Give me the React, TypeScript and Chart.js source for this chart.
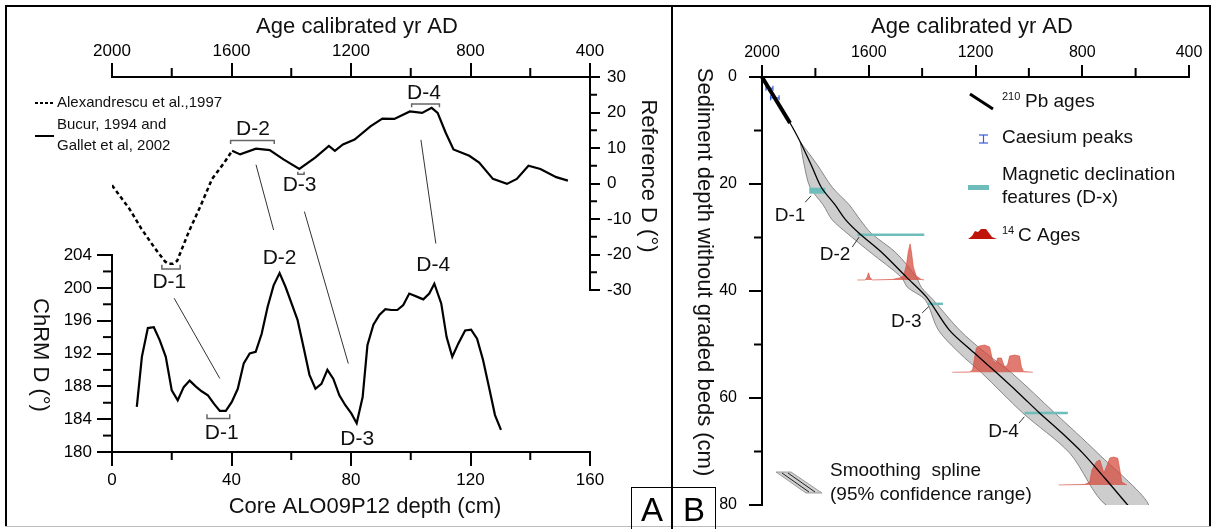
import React, { useEffect, useRef } from 'react';
import { Chart, registerables } from 'chart.js';

Chart.register(...registerables);

const FONT = '"Liberation Sans", Arial, Helvetica, sans-serif';

// ---------------- Panel A : reference curves (top) ----------------
const alexAge = [2000, 1942, 1902, 1856, 1823, 1812, 1796, 1782, 1743, 1703, 1665, 1624, 1598];
const alexD = [-0.5, -7.1, -12.7, -18.3, -21.9, -22.6, -22.6, -21.8, -13.6, -6.2, 1.3, 5.9, 9.2];
const bucurAge = [1598, 1571, 1518, 1472, 1426, 1373, 1320, 1274, 1254, 1227, 1188, 1135, 1095, 1055, 1003, 962, 930, 910, 883, 857, 804, 771, 725, 678, 645, 606, 566, 513, 474];
const bucurD = [9.2, 8.2, 9.8, 9.4, 6.8, 4.1, 7.3, 10.6, 9.2, 11.0, 12.4, 16.1, 18.3, 18.2, 20.3, 19.9, 21.3, 19.9, 14.3, 9.6, 7.8, 5.9, 1.3, -0.1, 1.3, 5.0, 4.1, 1.8, 0.8];

// ---------------- Panel A : core ChRM declination (bottom) ----------------
const coreDepth = [8.3, 10, 12, 14, 16, 18, 20, 22, 24, 26, 28, 30, 32.1, 34.1, 36.1, 38.1, 40.1, 42.1, 44.1, 46.1, 48.1, 50.1, 52.1, 54.1, 56.1, 58.1, 60.1, 62.1, 64.1, 66.1, 68.1, 70.1, 72.1, 74.1, 76.1, 78.1, 80.1, 81.9, 83.9, 85.5, 87.5, 89.5, 91.5, 93.5, 95.5, 97.5, 99.5, 102.2, 104.2, 106.2, 107.9, 110.2, 112.0, 113.9, 115.9, 118.2, 120.2, 122.2, 124.2, 126.2, 128.2, 130.2];
const coreChrm = [185.5, 191.6, 195.1, 195.2, 193.6, 191.6, 187.5, 186.3, 187.9, 188.7, 188.0, 187.4, 186.9, 185.9, 185.0, 185.0, 186.1, 187.7, 190.8, 192.0, 192.2, 194.4, 197.7, 200.3, 201.8, 200.1, 198.1, 196.1, 192.8, 189.4, 187.7, 188.3, 190.0, 188.9, 186.9, 185.7, 184.7, 183.5, 186.7, 193.0, 195.5, 196.7, 197.4, 197.3, 197.3, 197.9, 199.3, 198.9, 198.6, 199.3, 200.5, 198.1, 194.0, 191.6, 193.2, 194.8, 194.9, 193.8, 191.2, 187.9, 184.5, 182.7];

// ticks
const ageTicks = [2000, 1600, 1200, 800, 400];
const ageMinor = [1800, 1400, 1000, 600];
const depthTicks = [0, 40, 80, 120, 160];
const depthMinor = [20, 60, 100, 140];
const chrmTicks = [180, 184, 188, 192, 196, 200, 204];
const chrmMinor = [182, 186, 190, 194, 198, 202];
const refTicks = [30, 20, 10, 0, -10, -20, -30];
const refMinor = [25, 15, 5, -5, -15, -25];
const sedTicks = [0, 20, 40, 60, 80];
const sedMinor = [10, 30, 50, 70];

// Panel A feature annotations (reference curve)
const featNames = ['D-1', 'D-2', 'D-3', 'D-4'];
const refBrAgeFrom = [1833, 1603, 1378, 997];
const refBrAgeTo = [1772, 1457, 1357, 904];
const refBrD = [-24.1, 12.1, 2.6, 22.4];
const refBrEndD = [-22.9, 11.1, 3.3, 21.5];
const refLabAge = [1808, 1528, 1372, 956];
const refLabD = [-27.9, 15.4, -0.5, 25.5];
// Panel A feature annotations (core curve)
const coreLabDepth = [36.7, 56.1, 82.1, 107.5];
const coreLabChrm = [182.3, 203.6, 181.6, 202.7];
const coreBrDepthFrom = [31.8];
const coreBrDepthTo = [39.4];
const coreBrChrm = [184.07];
const coreBrEndChrm = [184.6];
// correlation lines: start (age, refD) -> end (depth, ChRM)
const linkAge = [1792, 1518, 1356, 966];
const linkRefD = [-32.3, 5.3, -7.9, 12.3];
const linkDepth = [36.1, 54.1, 79.1, 108.4];
const linkChrm = [188.95, 207.05, 190.78, 205.4];

// ---------------- Panel B : age-depth model ----------------
const splineAge = [2000, 1955, 1895, 1857, 1816, 1778, 1726, 1688, 1636, 1549, 1459, 1384, 1298, 1204, 1121, 1038, 960, 877, 798, 715, 628];
const splineDepth = [0, 3.9, 8.6, 12.1, 16.4, 20.6, 23.9, 26.6, 29.2, 32.9, 37.4, 41.1, 47.3, 51.6, 55.3, 59.1, 62.8, 66.5, 70.3, 75.0, 80.1];
const bandDepth = [12.1, 16.4, 20.6, 23.9, 26.7, 29.2, 32.9, 37.4, 39.3, 41.7, 47.3, 51.6, 55.3, 62.8, 70.3, 80.2];
const bandYoungAge = [1857, 1842, 1820, 1771, 1737, 1681, 1591, 1478, 1455, 1388, 1339, 1260, 1177, 1023, 847, 706];
const bandOldAge = [1857, 1793, 1737, 1673, 1632, 1591, 1497, 1422, 1403, 1358, 1260, 1162, 1065, 903, 742, 550];
const pbAge = [2000, 1895];
const pbDepth = [0, 8.6];
const csDepth = [2.1, 3.9];
const csAgeFrom = [1985, 1968];
const csAgeTo = [1959, 1936];
const magAgeFrom = [1823, 1643, 1380, 1016];
const magAgeTo = [1763, 1392, 1322, 854];
const magDepth = [21.25, 29.5, 42.4, 62.8];
const c14aAge = [1643, 1613, 1606, 1601, 1596, 1587, 1512, 1485, 1470, 1459, 1452, 1445, 1440, 1433, 1422, 1403, 1392];
const c14aDepth = [37.94, 37.94, 37.4, 36.6, 37.4, 37.94, 37.85, 37.57, 37.2, 35.2, 32.7, 31.2, 32.7, 35.5, 37.2, 37.85, 37.94];
const c14bAge = [1287, 1222, 1211, 1197, 1185, 1166, 1147, 1136, 1122, 1117, 1103, 1091, 1080, 1072, 1054, 1035, 1028, 1020, 985];
const c14bDepth = [55.19, 55.14, 54.77, 50.65, 50.28, 50.09, 50.47, 52.9, 53.46, 52.53, 52.53, 54.21, 53.84, 52.16, 51.97, 52.16, 54.21, 55.05, 55.19];
const c14cAge = [888, 791, 772, 764, 747, 734, 727, 719, 708, 697, 682, 667, 659, 652, 633];
const c14cDepth = [76.26, 76.17, 75.7, 73.46, 71.9, 71.59, 72.71, 74.02, 72.71, 71.22, 71.03, 71.27, 73.46, 75.7, 76.26];
const bLabAge = [1895, 1726, 1459, 1095];
const bLabDepth = [26.0, 33.3, 45.7, 66.3];
const bLeadAge1 = [1838, 1662, 1400, 1037];
const bLeadDepth1 = [23.4, 31.8, 44.1, 64.7];
const bLeadAge2 = [1816, 1636, 1375, 1017];
const bLeadDepth2 = [22.2, 29.9, 42.9, 63.5];

// ---------------- helpers ----------------
const zip = (xs: number[], ys: number[]) => xs.map((x, i) => ({ x, y: ys[i] }));

function seg(ctx: CanvasRenderingContext2D, x1: number, y1: number, x2: number, y2: number) {
  ctx.beginPath();
  ctx.moveTo(x1, y1);
  ctx.lineTo(x2, y2);
  ctx.stroke();
}

function txt(ctx: CanvasRenderingContext2D, s: string, x: number, y: number, size: number, align: CanvasTextAlign = 'center', rot = 0, color = '#111') {
  ctx.save();
  ctx.font = `${size}px ${FONT}`;
  ctx.fillStyle = color;
  ctx.textAlign = align;
  ctx.textBaseline = 'middle';
  ctx.translate(x, y);
  if (rot) ctx.rotate(rot);
  ctx.fillText(s, 0, 0);
  ctx.restore();
}

function axis(o: any) {
  const vertical = o.position === 'left' || o.position === 'right';
  return {
    type: 'linear',
    position: o.position,
    min: o.min,
    max: o.max,
    reverse: !!o.reverse,
    afterBuildTicks: (s: any) => { s.ticks = o.ticks.map((value: number) => ({ value })); },
    afterFit: (s: any) => { if (vertical) s.width = o.size; else s.height = o.size; },
    grid: { display: true, drawOnChartArea: false, drawTicks: true, tickLength: o.tickLength, color: '#000', lineWidth: 2 },
    border: { display: false },
    ticks: { autoSkip: false, maxRotation: 0, padding: o.padding, color: '#000', font: { family: FONT, size: o.fontSize }, callback: (v: any) => String(v) },
  };
}

const line = (data: any[], extra: any) => ({ data, showLine: true, pointRadius: 0, borderColor: '#000', borderWidth: 2, fill: false, tension: 0, ...extra });

// ---------------- plugins ----------------
const panelAPlugin = {
  id: 'panelA',
  afterDraw(chart: any) {
    const ctx: CanvasRenderingContext2D = chart.ctx;
    const ca = chart.chartArea;
    const sx = chart.scales.xTop, sb = chart.scales.xBottom, sl = chart.scales.yLeft, sr = chart.scales.yRight;
    ctx.save();
    ctx.strokeStyle = '#000';
    ctx.lineWidth = 2;
    seg(ctx, ca.left - 1, ca.top, ca.right + 1, ca.top);
    seg(ctx, ca.right, ca.top, ca.right, sr.getPixelForValue(-30) + 1);
    seg(ctx, ca.left, sl.getPixelForValue(204) - 1, ca.left, ca.bottom);
    seg(ctx, ca.left - 1, ca.bottom, ca.right + 1, ca.bottom);
    ageMinor.forEach(v => { const x = sx.getPixelForValue(v); seg(ctx, x, ca.top, x, ca.top - 9); });
    depthMinor.forEach(v => { const x = sb.getPixelForValue(v); seg(ctx, x, ca.bottom, x, ca.bottom + 8); });
    chrmMinor.forEach(v => { const y = sl.getPixelForValue(v); seg(ctx, ca.left, y, ca.left - 9, y); });
    refMinor.forEach(v => { const y = sr.getPixelForValue(v); seg(ctx, ca.right, y, ca.right + 7, y); });

    // axis titles
    txt(ctx, 'Age calibrated yr AD', 357, 27, 22);
    txt(ctx, 'Reference D (°)', 648, 176, 22, 'center', Math.PI / 2);
    txt(ctx, 'ChRM D (°)', 40, 355, 22, 'center', Math.PI / 2);
    txt(ctx, 'Core ALO09P12 depth (cm)', 365, 507, 22);

    // legend
    ctx.lineWidth = 2;
    ctx.setLineDash([3, 2]);
    seg(ctx, 35, 103, 55, 103);
    ctx.setLineDash([]);
    seg(ctx, 35, 136, 54, 136);
    txt(ctx, 'Alexandrescu et al.,1997', 57, 103, 15, 'left');
    txt(ctx, 'Bucur, 1994 and', 57, 125, 15, 'left');
    txt(ctx, 'Gallet et al, 2002', 57, 146, 15, 'left');

    // brackets on reference curve
    ctx.strokeStyle = '#666';
    ctx.lineWidth = 1.5;
    refBrAgeFrom.forEach((a, i) => {
      const x1 = sx.getPixelForValue(a), x2 = sx.getPixelForValue(refBrAgeTo[i]);
      const y = sr.getPixelForValue(refBrD[i]), ye = sr.getPixelForValue(refBrEndD[i]);
      ctx.beginPath(); ctx.moveTo(x1, ye); ctx.lineTo(x1, y); ctx.lineTo(x2, y); ctx.lineTo(x2, ye); ctx.stroke();
    });
    coreBrDepthFrom.forEach((d, i) => {
      const x1 = sb.getPixelForValue(d), x2 = sb.getPixelForValue(coreBrDepthTo[i]);
      const y = sl.getPixelForValue(coreBrChrm[i]), ye = sl.getPixelForValue(coreBrEndChrm[i]);
      ctx.beginPath(); ctx.moveTo(x1, ye); ctx.lineTo(x1, y); ctx.lineTo(x2, y); ctx.lineTo(x2, ye); ctx.stroke();
    });
    // correlation lines
    ctx.strokeStyle = '#333';
    ctx.lineWidth = 1;
    linkAge.forEach((a, i) => {
      seg(ctx, sx.getPixelForValue(a), sr.getPixelForValue(linkRefD[i]), sb.getPixelForValue(linkDepth[i]), sl.getPixelForValue(linkChrm[i]));
    });
    featNames.forEach((n, i) => {
      txt(ctx, n, sx.getPixelForValue(refLabAge[i]), sr.getPixelForValue(refLabD[i]), 21);
      txt(ctx, n, sb.getPixelForValue(coreLabDepth[i]), sl.getPixelForValue(coreLabChrm[i]), 21);
    });
    ctx.restore();
  },
};

const OX = 671;
const panelBPlugin = {
  id: 'panelB',
  afterDraw(chart: any) {
    const ctx: CanvasRenderingContext2D = chart.ctx;
    const ca = chart.chartArea;
    const sx = chart.scales.xTop, sy = chart.scales.yLeft;
    ctx.save();
    ctx.strokeStyle = '#000';
    ctx.lineWidth = 2;
    seg(ctx, ca.left - 1, ca.top, ca.right + 1, ca.top);
    seg(ctx, ca.left, ca.top, ca.left, ca.bottom + 1);
    ageMinor.forEach(v => { const x = sx.getPixelForValue(v); seg(ctx, x, ca.top, x, ca.top - 9); });
    sedMinor.forEach(v => { const y = sy.getPixelForValue(v); seg(ctx, ca.left, y, ca.left - 8, y); });

    txt(ctx, 'Age calibrated yr AD', 972 - OX, 27, 22);
    txt(ctx, 'Sediment depth without graded beds (cm)', 704.5 - OX, 272, 22, 'center', Math.PI / 2);

    // feature labels
    ctx.strokeStyle = '#333';
    ctx.lineWidth = 1;
    featNames.forEach((n, i) => {
      seg(ctx, sx.getPixelForValue(bLeadAge1[i]), sy.getPixelForValue(bLeadDepth1[i]), sx.getPixelForValue(bLeadAge2[i]), sy.getPixelForValue(bLeadDepth2[i]));
      txt(ctx, n, sx.getPixelForValue(bLabAge[i]), sy.getPixelForValue(bLabDepth[i]), 19);
    });

    // legend
    ctx.strokeStyle = '#000';
    ctx.lineWidth = 3;
    seg(ctx, 970 - OX, 94, 993 - OX, 109);
    txt(ctx, '210', 1002 - OX, 97, 11, 'left');
    txt(ctx, 'Pb ages', 1025 - OX, 102, 19, 'left');

    ctx.strokeStyle = '#3b5bdb';
    ctx.lineWidth = 1.2;
    seg(ctx, 983.5 - OX, 135, 983.5 - OX, 143);
    seg(ctx, 979 - OX, 135, 988 - OX, 135);
    seg(ctx, 979 - OX, 143, 988 - OX, 143);
    txt(ctx, 'Caesium peaks', 1002 - OX, 137.5, 19, 'left');

    ctx.strokeStyle = '#6fbdbb';
    ctx.lineWidth = 5;
    seg(ctx, 968 - OX, 187.5, 989 - OX, 187.5);
    txt(ctx, 'Magnetic declination', 1002 - OX, 175, 19, 'left');
    txt(ctx, 'features (D-x)', 1002 - OX, 198, 19, 'left');

    ctx.fillStyle = '#c0140a';
    ctx.beginPath();
    const red = [[968, 239], [972, 236], [975, 231], [978, 232], [981, 229], [986, 229], [989, 233], [992, 237], [997, 239]];
    red.forEach(([x, y], i) => (i ? ctx.lineTo(x - OX, y) : ctx.moveTo(x - OX, y)));
    ctx.closePath();
    ctx.fill();
    txt(ctx, '14', 1002 - OX, 231, 11, 'left');
    txt(ctx, 'C Ages', 1018 - OX, 236, 19, 'left');

    // smoothing spline legend
    ctx.fillStyle = '#d0d0d0';
    ctx.strokeStyle = '#888';
    ctx.lineWidth = 0.8;
    ctx.beginPath();
    ctx.moveTo(776 - OX, 472); ctx.lineTo(791 - OX, 472); ctx.lineTo(822 - OX, 493); ctx.lineTo(806 - OX, 493); ctx.closePath();
    ctx.fill(); ctx.stroke();
    ctx.strokeStyle = '#222';
    ctx.lineWidth = 1;
    seg(ctx, 782 - OX, 473, 809 - OX, 492);
    seg(ctx, 788 - OX, 473, 815 - OX, 492);
    txt(ctx, 'Smoothing  spline', 830 - OX, 471, 19, 'left');
    txt(ctx, '(95% confidence range)', 830 - OX, 495, 19, 'left');
    ctx.restore();
  },
};

export default function App() {
  const refA = useRef<HTMLCanvasElement>(null);
  const refB = useRef<HTMLCanvasElement>(null);

  useEffect(() => {
    const chartA = new Chart(refA.current as HTMLCanvasElement, {
      type: 'scatter',
      data: {
        datasets: [
          line(zip(alexAge, alexD), { xAxisID: 'xTop', yAxisID: 'yRight', borderDash: [4, 3], borderWidth: 2.5 }),
          line(zip(bucurAge, bucurD), { xAxisID: 'xTop', yAxisID: 'yRight', borderWidth: 2.2 }),
          line(zip(coreDepth, coreChrm), { xAxisID: 'xBottom', yAxisID: 'yLeft', borderWidth: 2.2 }),
        ],
      },
      options: {
        responsive: false,
        animation: false,
        layout: { padding: 0 },
        plugins: { legend: { display: false }, tooltip: { enabled: false } },
        scales: {
          xTop: axis({ position: 'top', min: 400, max: 2000, reverse: true, ticks: ageTicks, size: 77, tickLength: 14, padding: 1, fontSize: 17 }),
          xBottom: axis({ position: 'bottom', min: 0, max: 160, ticks: depthTicks, size: 77, tickLength: 14, padding: 4, fontSize: 17 }),
          yLeft: axis({ position: 'left', min: 180, max: 225.69, ticks: chrmTicks, size: 112, tickLength: 15, padding: 5, fontSize: 17 }),
          yRight: axis({ position: 'right', min: -75.63, max: 30, ticks: refTicks, size: 81, tickLength: 10, padding: 7, fontSize: 17 }),
        } as any,
      },
      plugins: [panelAPlugin],
    } as any);

    const bandPoly = zip(bandYoungAge, bandDepth).concat(zip(bandOldAge, bandDepth).reverse());
    const redFill = 'rgba(214,72,58,0.72)';
    const B = { xAxisID: 'xTop', yAxisID: 'yLeft' };
    const chartB = new Chart(refB.current as HTMLCanvasElement, {
      type: 'scatter',
      data: {
        datasets: [
          line(zip(pbAge, pbDepth), { ...B, borderWidth: 4, order: 1, clip: false }),
          line(zip(splineAge, splineDepth), { ...B, borderWidth: 1.3, order: 2, tension: 0.3 }),
          ...csDepth.map((d, i) => line([{ x: csAgeFrom[i], y: d }, { x: csAgeTo[i], y: d }], {
            ...B, borderColor: '#3b5bdb', borderWidth: 1.2, order: 3, pointRadius: 2.5, pointStyle: 'line', pointRotation: 90,
            pointBorderColor: '#3b5bdb', pointBorderWidth: 1.2,
          })),
          ...magDepth.map((d, i) => line([{ x: magAgeFrom[i], y: d }, { x: magAgeTo[i], y: d }], {
            ...B, borderColor: '#6fbdbb', borderWidth: i === 0 ? 6 : 2.5, order: 4,
          })),
          ...[zip(c14aAge, c14aDepth), zip(c14bAge, c14bDepth), zip(c14cAge, c14cDepth)].map(pts => line(pts, {
            ...B, borderColor: 'rgba(214,72,58,0.6)', borderWidth: 1, backgroundColor: redFill, fill: 'shape', order: 5,
          })),
          line(bandPoly, { ...B, borderColor: '#7d7d7d', borderWidth: 0.9, backgroundColor: '#cdcdcd', fill: 'shape', order: 6, tension: 0.3 }),
        ],
      },
      options: {
        responsive: false,
        animation: false,
        layout: { padding: { left: 0, top: 0, right: 24, bottom: 24 } },
        plugins: { legend: { display: false }, tooltip: { enabled: false } },
        scales: {
          xTop: axis({ position: 'top', min: 400, max: 2000, reverse: true, ticks: ageTicks, size: 77, tickLength: 12, padding: 3, fontSize: 16 }),
          yLeft: axis({ position: 'left', min: 0, max: 80, reverse: true, ticks: sedTicks, size: 91, tickLength: 13, padding: 12, fontSize: 16 }),
        } as any,
      },
      plugins: [panelBPlugin],
    } as any);

    return () => {
      chartA.destroy();
      chartB.destroy();
    };
  }, []);

  const box = (left: number, width: number, label: string) => (
    <div style={{
      position: 'absolute', left, top: 487, width, height: 44, boxSizing: 'border-box',
      border: '1.5px solid #000', display: 'flex', alignItems: 'center', justifyContent: 'center',
      fontFamily: FONT, fontSize: 33, color: '#000', lineHeight: 1,
    }}>{label}</div>
  );

  return (
    <div style={{ position: 'absolute', left: 0, top: 0, width: 1213, height: 529, background: '#fff', overflow: 'hidden' }}>
      <canvas ref={refA} width={671} height={529} style={{ position: 'absolute', left: 0, top: 0 }} />
      <canvas ref={refB} width={542} height={529} style={{ position: 'absolute', left: OX, top: 0 }} />
      <div style={{ position: 'absolute', left: 5, top: 5, width: 1206, height: 2, background: '#000' }} />
      <div style={{ position: 'absolute', left: 5, top: 5, width: 2, height: 522, background: '#000' }} />
      <div style={{ position: 'absolute', left: 1209, top: 5, width: 2, height: 522, background: '#000' }} />
      <div style={{ position: 'absolute', left: 5, top: 526, width: 1206, height: 1, background: '#bbb' }} />
      <div style={{ position: 'absolute', left: 671, top: 5, width: 2, height: 524, background: '#000' }} />
      {box(631, 42, 'A')}
      {box(672, 44, 'B')}
    </div>
  );
}
